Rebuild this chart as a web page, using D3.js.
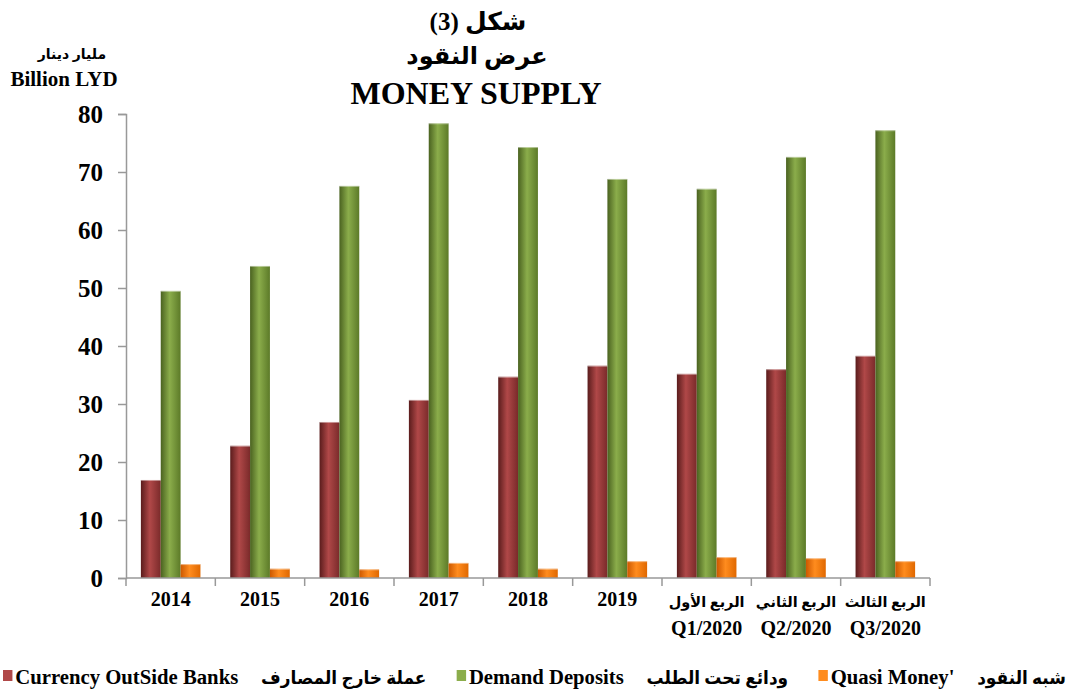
<!DOCTYPE html>
<html>
<head>
<meta charset="utf-8">
<script src="https://cdn.jsdelivr.net/npm/d3@7"></script>
<style>
  body { margin: 0; background: #fff; }
  svg { display: block; font-family: "Liberation Serif", "DejaVu Serif", serif; font-weight: bold; }
</style>
</head>
<body>
<svg id="chart" width="1069" height="696"></svg>
<script>
// categories (two lines for the 2020 quarters)
const CATEGORIES = ["2014", "2015", "2016", "2017", "2018", "2019", "Q1/2020", "Q2/2020", "Q3/2020"];
const CAT_AR = ["", "", "", "", "", "", "الربع الأول", "الربع الثاني", "الربع الثالث"];

// billion LYD
const CURRENCY = [16.9, 22.8, 26.9, 30.7, 34.7, 36.6, 35.2, 36.0, 38.3];
const DEMAND = [49.5, 53.8, 67.6, 78.4, 74.3, 68.8, 67.1, 72.6, 77.2];
const QUASI = [2.4, 1.6, 1.5, 2.6, 1.6, 2.9, 3.6, 3.4, 2.9];

const SERIES = ["currency", "demand", "quasi"];
const SERIES_EN = ["Currency OutSide Banks", "Demand Deposits", "Quasi Money'"];
const SERIES_AR = ["عملة خارج المصارف", "ودائع تحت الطلب", "شبه النقود"];
const Y_TICKS = [0, 10, 20, 30, 40, 50, 60, 70, 80];

const svg = d3.select("#chart");
const M_LEFT = 126, M_RIGHT = 930, M_TOP = 114, M_BOTTOM = 578;
const AR_FONT = "Liberation Serif, DejaVu Sans, sans-serif";

const x = d3.scaleBand().domain(CATEGORIES).range([M_LEFT, M_RIGHT]).padding(0);
const xs = d3.scaleBand().domain(SERIES).range([0, x.bandwidth()]).paddingInner(0).paddingOuter(0.75);
const y = d3.scaleLinear().domain([0, 80]).range([M_BOTTOM, M_TOP]);

// gradients for the cylinder-ish shading
const colors = {
  currency: ["#5a1c1c", "#b04848", "#7a2a2a"],
  demand: ["#4a6220", "#8bad4b", "#5c7a28"],
  quasi: ["#cc5800", "#ff8c1e", "#e06800"]
};
const defs = svg.append("defs");
SERIES.forEach(s => {
  const g = defs.append("linearGradient").attr("id", "g-" + s)
    .attr("x1", 0).attr("x2", 1).attr("y1", 0).attr("y2", 0);
  g.append("stop").attr("offset", "0%").attr("stop-color", colors[s][0]);
  g.append("stop").attr("offset", "45%").attr("stop-color", colors[s][1]);
  g.append("stop").attr("offset", "100%").attr("stop-color", colors[s][2]);
});

// titles
svg.append("text").attr("x", 478).attr("y", 30).attr("text-anchor", "middle")
  .style("font-size", "25px").style("font-family", AR_FONT).text("شكل (3)");
svg.append("text").attr("x", 477).attr("y", 64).attr("text-anchor", "middle")
  .style("font-size", "24px").style("font-family", AR_FONT).text("عرض النقود");
svg.append("text").attr("x", 476).attr("y", 104).attr("text-anchor", "middle")
  .style("font-size", "32px").text("MONEY SUPPLY");

svg.append("text").attr("x", 72).attr("y", 59).attr("text-anchor", "middle")
  .style("font-size", "14px").style("font-family", AR_FONT).text("مليار دينار");
svg.append("text").attr("x", 64).attr("y", 86).attr("text-anchor", "middle")
  .style("font-size", "21px").text("Billion LYD");

// y axis
const yAxis = svg.append("g").attr("transform", `translate(${M_LEFT},0)`)
  .call(d3.axisLeft(y).tickValues(Y_TICKS).tickSize(8).tickPadding(15));
yAxis.selectAll("path, line").attr("stroke", "#999").attr("stroke-width", 1.5);
yAxis.selectAll("text").style("font-size", "25px").attr("fill", "#000")
  .style("font-family", "Liberation Serif, serif").style("font-weight", "bold");

// bars
const data = CATEGORIES.map((c, i) => ({ cat: c, currency: CURRENCY[i], demand: DEMAND[i], quasi: QUASI[i] }));
const groups = svg.append("g").selectAll("g").data(data).join("g")
  .attr("transform", d => `translate(${x(d.cat)},0)`);
groups.selectAll("rect").data(d => SERIES.map(s => ({ s, v: d[s] }))).join("rect")
  .attr("x", d => xs(d.s))
  .attr("width", xs.bandwidth())
  .attr("y", d => y(d.v))
  .attr("height", d => y(0) - y(d.v))
  .attr("fill", d => `url(#g-${d.s})`);
groups.selectAll("line.top").data(d => SERIES.map(s => ({ s, v: d[s] }))).join("line")
  .attr("class", "top")
  .attr("x1", d => xs(d.s)).attr("x2", d => xs(d.s) + xs.bandwidth())
  .attr("y1", d => y(d.v) + 0.5).attr("y2", d => y(d.v) + 0.5)
  .attr("stroke", "#fff").attr("stroke-opacity", 0.45);

// x axis with category boundary ticks
const xg = svg.append("g");
xg.append("line").attr("x1", M_LEFT).attr("x2", M_RIGHT).attr("y1", M_BOTTOM).attr("y2", M_BOTTOM)
  .attr("stroke", "#999").attr("stroke-width", 1.5);
xg.selectAll("line.tick").data(CATEGORIES.concat([null])).join("line")
  .attr("class", "tick")
  .attr("x1", (d, i) => M_LEFT + i * x.step()).attr("x2", (d, i) => M_LEFT + i * x.step())
  .attr("y1", M_BOTTOM).attr("y2", M_BOTTOM + 8)
  .attr("stroke", "#999").attr("stroke-width", 1.5);

const labels = xg.selectAll("g.lab").data(CATEGORIES).join("g")
  .attr("class", "lab")
  .attr("transform", d => `translate(${x(d) + x.bandwidth() / 2},0)`);
labels.append("text").attr("text-anchor", "middle").attr("y", (d, i) => CAT_AR[i] ? 635 : 606)
  .style("font-size", "20px").text(d => d);
labels.filter((d, i) => CAT_AR[i]).append("text").attr("text-anchor", "middle").attr("y", 607)
  .style("font-size", "14.5px").style("font-family", AR_FONT)
  .text(d => CAT_AR[CATEGORIES.indexOf(d)]);

// legend: square, English, Arabic ; laid out left to right, then fitted to the width
const legend = svg.append("g");
let cursor = 0;
SERIES.forEach((s, i) => {
  legend.append("rect").attr("x", cursor).attr("y", 670).attr("width", 10).attr("height", 11)
    .attr("fill", colors[s][1]);
  cursor += 13;
  const en = legend.append("text").attr("x", cursor).attr("y", 684)
    .style("font-size", "22px").text(SERIES_EN[i]);
  cursor += en.node().getComputedTextLength() + 24;
  const ar = legend.append("text").attr("x", cursor).attr("y", 684)
    .style("font-size", "18px").style("font-family", AR_FONT).text(SERIES_AR[i]);
  cursor += ar.node().getComputedTextLength() + 32;
});
const legendWidth = cursor - 32;
const sx = Math.min(1.05, 1063 / legendWidth);
legend.attr("transform", `translate(${(1069 - legendWidth * sx) / 2},0) scale(${sx},1)`);
</script>
</body>
</html>
